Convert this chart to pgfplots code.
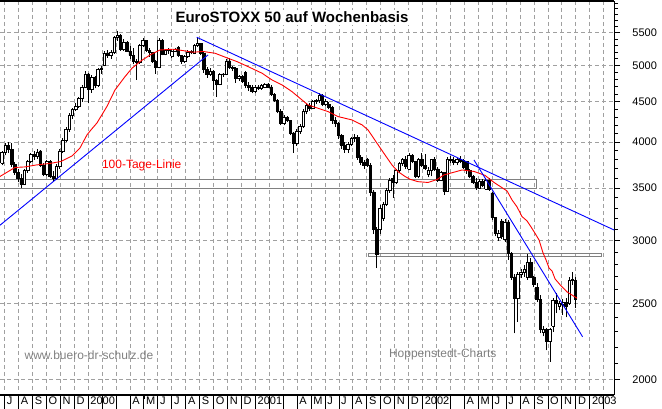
\documentclass[border=0pt]{standalone}
\usepackage{fontspec}
\setmainfont{Liberation Sans}
\usepackage{pgfplots}
\usepackage{pgfplotstable}
\pgfplotsset{compat=1.18}
\definecolor{gridgray}{RGB}{160,160,160}
\definecolor{boxgray}{RGB}{128,128,128}
\definecolor{wmgray}{RGB}{128,128,128}

\pgfplotstableread{
i O H L C
0 3760 3900 3740 3880
1 3880 3990 3850 3960
2 3960 4000 3880 3920
3 3920 3990 3720 3750
4 3750 3780 3640 3660
5 3660 3700 3560 3600
6 3600 3650 3500 3540
7 3540 3700 3530 3680
8 3680 3800 3660 3780
9 3780 3880 3760 3860
10 3860 3900 3800 3840
11 3840 3920 3810 3880
12 3900 3910 3720 3740
13 3740 3760 3620 3640
14 3640 3800 3620 3780
15 3780 3800 3600 3620
16 3620 3680 3560 3600
17 3600 3750 3580 3730
18 3730 3920 3700 3900
19 3900 4050 3880 4020
20 4020 4180 4000 4150
21 4150 4350 4120 4320
22 4320 4420 4280 4400
23 4400 4480 4380 4440
24 4440 4560 4420 4540
25 4540 4720 4500 4700
26 4700 4920 4680 4880
27 4880 4900 4480 4660
28 4660 4860 4620 4830
29 4830 4850 4680 4720
30 4720 4970 4700 4940
31 4940 5000 4880 4960
32 5000 5220 4990 5190
33 5190 5230 5120 5150
34 5150 5230 5100 5200
35 5200 5450 5180 5430
36 5430 5530 5380 5460
37 5460 5480 5220 5250
38 5250 5400 5220 5350
39 5350 5370 5200 5220
40 5220 5300 5100 5150
41 5150 5260 5020 5060
42 5060 5100 4800 5050
43 5050 5330 5030 5300
44 5300 5420 5280 5380
45 5380 5390 5200 5230
46 5230 5260 5130 5200
47 5200 5210 5040 5060
48 5060 5080 4880 4980
49 4980 5420 4960 5380
50 5380 5400 5150 5170
51 5170 5250 5150 5230
52 5230 5270 5180 5240
53 5140 5250 5120 5220
54 5220 5270 5200 5250
55 5270 5300 5130 5150
56 5150 5160 5030 5060
57 5060 5150 5040 5130
58 5130 5230 5120 5200
59 5200 5240 5170 5220
60 5190 5330 5170 5310
61 5310 5420 5280 5330
62 5330 5340 5150 5180
63 5180 5200 4900 4950
64 4950 4980 4830 4880
65 4880 4960 4850 4920
66 4920 4930 4660 4790
67 4790 4810 4560 4740
68 4740 4900 4720 4880
69 4880 4900 4840 4870
70 4870 5100 4860 5070
71 5070 5110 4950 4980
72 4980 5000 4920 4960
73 4960 4980 4760 4820
74 4820 4860 4780 4840
75 4840 4860 4760 4780
76 4900 4920 4680 4720
77 4720 4770 4650 4690
78 4690 4720 4610 4640
79 4640 4720 4620 4700
80 4700 4730 4660 4680
81 4680 4740 4660 4720
82 4700 4760 4680 4740
83 4740 4760 4680 4700
84 4700 4720 4580 4600
85 4600 4620 4500 4520
86 4520 4540 4350 4380
87 4380 4400 4200 4230
88 4230 4330 4200 4300
89 4300 4320 4240 4260
90 4260 4270 4080 4110
91 4110 4120 3880 3990
92 3990 4160 3960 4130
93 4130 4220 4100 4190
94 4190 4400 4170 4370
95 4370 4480 4340 4450
96 4450 4480 4380 4420
97 4420 4520 4400 4500
98 4500 4540 4470 4520
99 4520 4620 4490 4580
100 4580 4600 4440 4470
101 4470 4530 4450 4510
102 4460 4500 4400 4430
103 4430 4440 4220 4260
104 4260 4300 4180 4220
105 4220 4240 4040 4080
106 4080 4100 3920 3960
107 3960 4000 3880 3920
108 3920 4000 3880 3980
109 3980 4060 3960 4040
110 4040 4100 4000 4060
111 4060 4080 3800 3830
112 3830 3850 3740 3770
113 3770 3800 3700 3740
114 3800 3820 3720 3740
115 3740 3760 3420 3460
116 3460 3480 3060 3100
117 3100 3120 2770 2880
118 3100 3330 3060 3300
119 3200 3360 3180 3340
120 3340 3500 3320 3480
121 3480 3600 3450 3580
122 3600 3640 3400 3560
123 3560 3700 3540 3680
124 3680 3780 3660 3760
125 3760 3820 3730 3800
126 3800 3840 3700 3730
127 3700 3880 3690 3850
128 3850 3870 3760 3780
129 3780 3790 3600 3620
130 3620 3820 3600 3800
131 3800 3880 3720 3740
132 3740 3860 3690 3710
133 3640 3720 3610 3690
134 3690 3810 3620 3800
135 3800 3830 3680 3700
136 3700 3720 3560 3580
137 3580 3680 3570 3660
138 3660 3670 3430 3470
139 3470 3830 3460 3800
140 3800 3840 3760 3790
141 3790 3830 3740 3770
142 3770 3820 3740 3800
143 3800 3840 3760 3780
144 3790 3810 3700 3720
145 3780 3790 3650 3680
146 3680 3700 3600 3620
147 3620 3640 3540 3560
148 3560 3600 3480 3510
149 3500 3590 3490 3570
150 3570 3590 3510 3530
151 3490 3600 3480 3580
152 3580 3600 3470 3490
153 3450 3460 3190 3210
154 3210 3220 3040 3070
155 3030 3100 3000 3070
156 3180 3200 3020 3040
157 3010 3200 2990 3170
158 3170 3190 2840 2890
159 2890 2900 2680 2700
160 2700 2720 2290 2540
161 2540 2740 2370 2720
162 2720 2760 2690 2740
163 2740 2800 2700 2760
164 2700 2890 2680 2820
165 2820 2850 2690 2700
166 2700 2710 2620 2640
167 2620 2650 2510 2530
168 2530 2560 2290 2320
169 2300 2340 2270 2320
170 2320 2330 2180 2240
171 2240 2330 2110 2320
172 2340 2540 2300 2520
173 2520 2580 2430 2500
174 2480 2520 2450 2500
175 2490 2530 2420 2510
176 2510 2540 2400 2480
177 2500 2700 2490 2670
178 2670 2740 2640 2680
179 2670 2700 2470 2530
}\candles

\def\monthpx{4.68,18.62,32.56,46.50,60.39,74.33,88.27,102.21,116.15,130.06,143.99,157.93,171.87,185.81,199.72,213.66,227.60,241.54,255.48,269.38,283.32,297.26,311.20,325.14,339.05,352.99,366.93,380.87,394.81,408.71,422.65,436.59,450.53,464.47,478.38,492.32,506.26,520.20,534.14,548.05,561.99,575.93,589.87,603.77}

\begin{document}
\begin{tikzpicture}
\useasboundingbox (0pt,0pt) rectangle (662pt,409pt);
\pgfplotstablegetrowsof{\candles}
\pgfmathtruncatemacro{\lastrow}{\pgfplotsretval-1}
\gdef\wicks{}\gdef\hollow{}\gdef\filled{}
\foreach \r in {0,...,\lastrow}{%
  \pgfplotstablegetelem{\r}{i}\of\candles \let\vI\pgfplotsretval
  \pgfplotstablegetelem{\r}{O}\of\candles \let\vO\pgfplotsretval
  \pgfplotstablegetelem{\r}{H}\of\candles \let\vH\pgfplotsretval
  \pgfplotstablegetelem{\r}{L}\of\candles \let\vL\pgfplotsretval
  \pgfplotstablegetelem{\r}{C}\of\candles \let\vC\pgfplotsretval
  \pgfmathsetmacro\xa{\vI-0.4}%
  \pgfmathsetmacro\xb{\vI+0.4}%
  \xdef\wicks{\wicks (\vI,\vL) (\vI,\vH) (\vI,nan)}%
  \pgfmathtruncatemacro\up{\vC>=\vO}%
  \ifnum\up=1
    \xdef\hollow{\hollow (\xa,\vO) (\xb,\vO) (\xb,\vC) (\xa,\vC) (\xa,\vO) (\vI,nan)}%
  \else
    \xdef\filled{\filled (\xa,\vO) (\xb,\vO) (\xb,\vC) (\xa,\vC) (\xa,\vO) (\vI,nan)}%
  \fi
}
\begin{axis}[
  name=main,
  at={(0pt,14pt)}, anchor=south west,
  width=614pt, height=394pt, scale only axis,
  xmin=-0.62, xmax=191.0,
  ymode=log, ymin=1914.4, ymax=6038,
  axis x line*=bottom, axis y line*=right,
  axis line style={-, line width=1pt, black},
  xtick={0.84,5.19,9.54,13.89,18.23,22.58,26.93,31.28,35.63,39.97,44.32,48.67,53.02,57.37,61.71,66.06,70.41,74.76,79.11,83.45,87.80,92.15,96.50,100.85,105.19,109.54,113.89,118.24,122.59,126.93,131.28,135.63,139.98,144.33,148.67,153.02,157.37,161.72,166.07,170.41,174.76,179.11,183.46,187.80},
  xticklabels={J,A,S,O,N,D,2000,{},{},A,M,J,J,A,S,O,N,D,2001,{},{},A,M,J,J,A,S,O,N,D,2002,{},{},A,M,J,J,A,S,O,N,D,2003,{}},
  ytick={2000,2500,3000,3500,4000,4500,5000,5500},
  yticklabels={2000,2500,3000,3500,4000,4500,5000,5500},
  minor ytick={2100,2200,2300,2400,2600,2700,2800,2900,3100,3200,3300,3400,3600,3700,3800,3900,4100,4200,4300,4400,4600,4700,4800,4900,5100,5200,5300,5400,5600,5700,5800,5900,6000},
  tick align=outside,
  tick style={black, line width=1pt},
  ytick style={/pgfplots/major tick length=6pt, /pgfplots/minor tick length=4pt},
  xticklabel style={font=\fontsize{11}{13}\selectfont, anchor=north west, inner sep=0pt, xshift=2pt, yshift=2.3pt},
  yticklabel style={font=\fontsize{11}{13}\selectfont, anchor=west, inner sep=0pt, xshift=14pt},
  clip=false,
]
% dashed grid as short segments along the month and price levels
\foreach \m in {0.84,5.19,9.54,13.89,18.23,22.58,26.93,31.28,35.63,39.97,44.32,48.67,53.02,57.37,61.71,66.06,70.41,74.76,79.11,83.45,87.80,92.15,96.50,100.85,105.19,109.54,113.89,118.24,122.59,126.93,131.28,135.63,139.98,144.33,148.67,153.02,157.37,161.72,166.07,170.41,174.76,179.11,183.46,187.80}{%
  \edef\tmp{\noexpand\draw[gridgray, line width=1pt] foreach \noexpand\k in {0,...,55} {(axis cs:\m,6038) ++(0pt,-7pt*\noexpand\k) -- ++(0pt,-4pt)};}\tmp
}
\foreach \v in {2000,2500,3000,3500,4000,4500,5000,5500}{%
  \edef\tmp{\noexpand\draw[gridgray, line width=1pt] foreach \noexpand\k in {0,...,87} {(axis cs:-0.62,\v) ++(7pt*\noexpand\k,0pt) -- ++(4pt,0pt)};}\tmp
}
\addplot[boxgray, line width=1pt] coordinates {(-0.62,3500) (166.9,3500) (166.9,3590) (-0.62,3590)};
\addplot[boxgray, line width=1pt] coordinates {(114.3,2866) (187.2,2866) (187.2,2888) (114.3,2888) (114.3,2866)};
\edef\tmp{\noexpand\addplot[black, line width=0.8pt, unbounded coords=jump] coordinates {\wicks};}\tmp
\edef\tmp{\noexpand\addplot[draw=black, fill=white, line width=0.7pt, unbounded coords=jump] coordinates {\hollow};}\tmp
\edef\tmp{\noexpand\addplot[draw=black, fill=black, line width=0.7pt, unbounded coords=jump] coordinates {\filled};}\tmp
\addplot[red, line width=0.9pt] coordinates {
(-0.62,3620) (4.06,3716) (7.18,3722) (10.61,3743) (14.98,3760) (18.41,3782) (21.85,3843) (24.34,3934) (26.53,4086) (27.78,4146) (29.65,4231) (32.77,4440) (35.27,4658) (38.39,4842) (40.57,4962) (43.07,5059) (46.19,5158) (49.31,5234) (53.37,5245) (56.49,5224) (59.61,5199) (62.73,5211) (66.48,5184) (70.54,5109) (73.35,5059) (76.78,4986) (81.15,4891) (84.27,4796) (87.39,4727) (90.51,4635) (93.63,4524) (95.51,4459) (98.63,4416) (101.75,4373) (104.87,4310) (109.24,4268) (112.36,4207) (114.23,4146) (117.04,3988) (119.54,3854) (121.72,3743) (123.60,3671) (125.78,3620) (127.34,3590) (129.84,3565) (132.96,3557) (135.77,3588) (137.95,3636) (140.76,3662) (143.57,3689) (147.32,3673) (150.75,3631) (153.56,3557) (157.62,3470) (159.18,3380) (160.74,3312) (162.30,3220) (163.86,3180) (165.11,3124) (166.35,3067) (167.60,3008) (168.85,2896) (169.79,2838) (170.72,2772) (171.66,2748) (172.60,2685) (174.47,2631) (176.34,2585) (179.46,2538)};
\addplot[blue, line width=0.9pt] coordinates {(-0.62,3140) (64.3,5159)};
\addplot[blue, line width=0.9pt] coordinates {(60.8,5431) (191,3097)};
\addplot[blue, line width=0.9pt] coordinates {(147.3,3798) (181.2,2268)};
\end{axis}
% frame: top and bottom lines, month separators in the label row
\draw[black, line width=1.2pt] (0pt,408pt) -- (614pt,408pt);
\draw[black, line width=1.2pt] (0pt,14pt) -- (614pt,14pt);
\foreach \px in \monthpx {%
  \draw[black, line width=1pt] (\px pt,14pt) -- (\px pt,0pt);
}
\node[anchor=base, fill=white, inner sep=2pt, font=\fontsize{15}{18}\selectfont\bfseries] at (292pt,386pt) {EuroSTOXX 50 auf Wochenbasis};
\node[anchor=base, text=red, inner sep=0pt, font=\fontsize{12}{14}\selectfont] at (141.7pt,240pt) {100-Tage-Linie};
\node[anchor=base, text=wmgray, inner sep=0pt, font=\fontsize{12}{14}\selectfont] at (89pt,49pt) {www.buero-dr-schulz.de};
\node[anchor=base, text=wmgray, inner sep=0pt, font=\fontsize{12}{14}\selectfont] at (442.7pt,51.7pt) {Hoppenstedt-Charts};
\end{tikzpicture}
\end{document}
